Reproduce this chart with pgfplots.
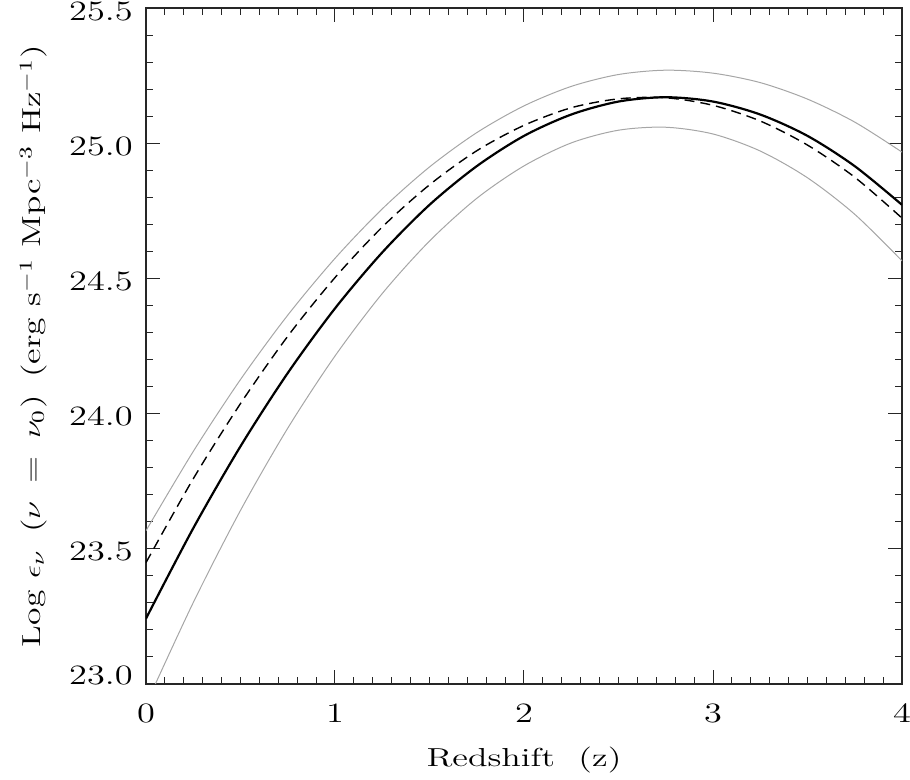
\documentclass[border=0pt]{standalone}
\usepackage{pgfplots}
\pgfplotsset{compat=1.18}
\newcommand{\tl}[1]{\scalebox{1.3}[1]{#1}}
\begin{document}
\begin{tikzpicture}
\begin{axis}[
  name=ax,
  scale only axis,
  width=378pt, height=338pt,
  xmin=0, xmax=4, ymin=23.0, ymax=25.5,
  xtick={0,1,2,3,4},
  xticklabels={\tl{0},\tl{1},\tl{2},\tl{3},\tl{4}},
  ytick={23.0,23.5,24.0,24.5,25.0,25.5},
  yticklabels={\raisebox{12pt}{\tl{23.0}},\tl{23.5},\tl{24.0},\tl{24.5},\tl{25.0},\raisebox{-7pt}{\tl{25.5}}},
  minor x tick num=9,
  minor y tick num=4,
  tick align=inside,
  major tick length=7pt,
  minor tick length=3.5pt,
  every tick/.style={black!85, line width=0.5pt},
  axis line style={line width=0.6pt, black!85},
  tick label style={font=\fontsize{14}{16}\selectfont, inner sep=0pt},
  x tick label style={anchor=center, yshift=-14.5pt},
  y tick label style={anchor=east, xshift=-6.5pt, yshift=-1.5pt},
  xlabel={\scalebox{1.38}[1]{Redshift\ \ (z)}},
  ylabel={\scalebox{1.37}[1]{Log $\epsilon_\nu$ \,($\nu$ \,=\, $\nu_0$)\, (erg s$^{-1}$ Mpc$^{-3}$ Hz$^{-1}$)}},
  label style={font=\fontsize{13}{15}\selectfont},
  xlabel style={at={(axis description cs:0.5,-0.112)}, anchor=center},
  ylabel style={at={(axis description cs:-0.149,0.5)}, anchor=center},
  clip=true,
]
\addplot[gray!70, line width=0.5pt, smooth] coordinates {
(0,23.567) (0.25,23.860) (0.5,24.126) (0.75,24.364) (1.0,24.574) (1.25,24.757)
(1.5,24.912) (1.75,25.039) (2.0,25.138) (2.25,25.210) (2.5,25.254) (2.75,25.270)
(3.0,25.259) (3.25,25.224) (3.5,25.163) (3.75,25.078) (4.0,24.967)};
\addplot[gray!70, line width=0.5pt, smooth] coordinates {
(0,22.924) (0.25,23.301) (0.5,23.642) (0.75,23.946) (1.0,24.213) (1.25,24.444)
(1.5,24.638) (1.75,24.796) (2.0,24.916) (2.25,25.001) (2.5,25.048) (2.75,25.059)
(3.0,25.034) (3.25,24.971) (3.5,24.872) (3.75,24.737) (4.0,24.565)};
\addplot[black, line width=0.7pt, dash pattern=on 5pt off 3pt, smooth] coordinates {
(0,23.449) (0.25,23.759) (0.5,24.037) (0.75,24.286) (1.0,24.503) (1.25,24.690)
(1.5,24.846) (1.75,24.972) (2.0,25.066) (2.25,25.131) (2.5,25.164) (2.75,25.168)
(3.0,25.140) (3.25,25.082) (3.5,24.993) (3.75,24.874) (4.0,24.723)};
\addplot[black, line width=1.1pt, smooth] coordinates {
(0,23.242) (0.25,23.576) (0.5,23.879) (0.75,24.150) (1.0,24.389) (1.25,24.596)
(1.5,24.772) (1.75,24.915) (2.0,25.027) (2.25,25.106) (2.5,25.154) (2.75,25.170)
(3.0,25.154) (3.25,25.106) (3.5,25.027) (3.75,24.915) (4.0,24.772)};
\end{axis}
\pgfresetboundingbox
\path ([xshift=-73pt,yshift=-48pt]ax.south west) rectangle ([xshift=4pt,yshift=4pt]ax.north east);
\end{tikzpicture}
\end{document}
